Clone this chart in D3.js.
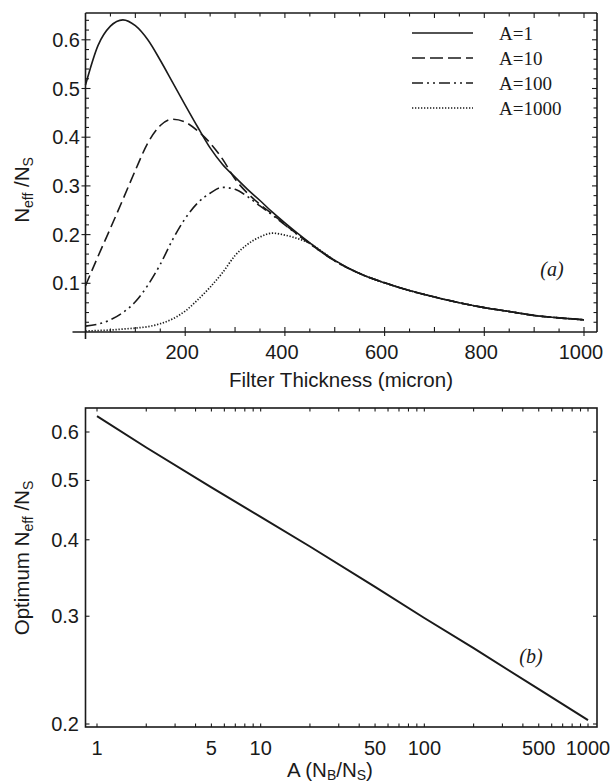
<!DOCTYPE html>
<html>
<head>
<meta charset="utf-8">
<script src="https://d3js.org/d3.v7.min.js"></script>
<style>
  body { margin: 0; background: #fff; }
  svg { display: block; }
  .tick-label { font-family: "Liberation Sans", Arial, sans-serif; font-size: 20px; fill: #1a1a1a; }
  .axis-title { font-family: "Liberation Sans", Arial, sans-serif; font-size: 20.5px; fill: #1a1a1a; }
  .legend-label { font-family: "Liberation Serif", "Times New Roman", serif; font-size: 19px; fill: #1a1a1a; }
  .panel-tag { font-family: "Liberation Serif", "Times New Roman", serif; font-size: 20px; font-style: italic; fill: #1a1a1a; }
</style>
</head>
<body>
<div id="graphicContainer"></div>
<script>
// ---- data ----
var thickness = [0,25,50,75,100,125,150,175,200,225,250,275,300,325,350,375,400,425,450,475,500,550,600,650,700,750,800,850,900,950,1000];

var effA1    = [0.507,0.588,0.628,0.641,0.629,0.600,0.558,0.512,0.466,0.421,0.378,0.344,0.318,0.293,0.270,0.246,0.224,0.203,0.183,0.164,0.147,0.120,0.101,0.085,0.072,0.060,0.050,0.042,0.034,0.029,0.025];
var effA10   = [0.095,0.155,0.213,0.272,0.332,0.388,0.424,0.437,0.431,0.413,0.388,0.355,0.314,0.285,0.262,0.242,0.221,0.201,0.182,0.163,0.146,0.120,0.101,0.085,0.072,0.060,0.050,0.042,0.034,0.029,0.025];
var effA100  = [0.012,0.016,0.025,0.040,0.062,0.096,0.139,0.190,0.233,0.265,0.285,0.297,0.293,0.278,0.259,0.240,0.220,0.200,0.181,0.163,0.146,0.120,0.101,0.085,0.072,0.060,0.050,0.042,0.034,0.029,0.025];
var effA1000 = [0.002,0.003,0.004,0.006,0.008,0.011,0.017,0.027,0.043,0.066,0.092,0.122,0.157,0.180,0.195,0.203,0.199,0.192,0.182,0.165,0.147,0.120,0.101,0.085,0.072,0.060,0.050,0.042,0.034,0.029,0.025];

var seriesNames = ["A=1", "A=10", "A=100", "A=1000"];

var xTicksTop = [200, 400, 600, 800, 1000];
var yTicksTop = [0.1, 0.2, 0.3, 0.4, 0.5, 0.6];

var ratioA = [1, 2, 5, 10, 20, 50, 100, 200, 500, 1000];
var optEff = [0.637, 0.566, 0.487, 0.436, 0.390, 0.335, 0.298, 0.266, 0.228, 0.203];

var xTicksBottom = [1, 5, 10, 50, 100, 500, 1000];
var yTicksBottom = [0.2, 0.3, 0.4, 0.5, 0.6];

// ---- layout ----
var width = 613,
	height = 783,
	ink = "#1a1a1a",
	subSize = "14px";

var svg = d3.select("#graphicContainer")
	.append("svg")
	.attr("width", width)
	.attr("height", height);

// ================= panel (a) =================
var frameA = {left: 85.5, right: 597, top: 13, bottom: 332};

var xTop = d3.scaleLinear().domain([0, 1000]).range([85.5, 584]),
	yTop = d3.scaleLinear().domain([0, 0.6]).range([332, 332 - 0.6 * 487]);

var gA = svg.append("g");

var dashes = ["none", "11,5", "11,4,2,4,2,4", "1.3,1.7"];
var allSeries = [effA1, effA10, effA100, effA1000];

var lineTop = d3.line()
	.x(function(d){ return xTop(d[0]) })
	.y(function(d){ return yTop(d[1]) })
	.curve(d3.curveMonotoneX);

allSeries.forEach(function(vals, i){
	gA.append("path")
		.datum(thickness.map(function(t, j){ return [t, vals[j]] }))
		.attr("d", lineTop)
		.attr("fill", "none")
		.attr("stroke", ink)
		.attr("stroke-width", i == 3 ? 1.7 : 1.6)
		.attr("stroke-dasharray", dashes[i]);
});

// frame + axes
var frameLines = [
	[frameA.left, frameA.top, frameA.right, frameA.top],
	[frameA.right, frameA.top, frameA.right, frameA.bottom],
	[frameA.left, frameA.top, frameA.left, frameA.bottom + 7],
	[frameA.left - 13, frameA.bottom, frameA.right, frameA.bottom]
];
gA.selectAll(".frame").data(frameLines).enter().append("line")
	.attr("class", "frame")
	.attr("x1", function(d){ return d[0] }).attr("y1", function(d){ return d[1] })
	.attr("x2", function(d){ return d[2] }).attr("y2", function(d){ return d[3] })
	.attr("stroke", ink).attr("stroke-width", 1.6);

// x ticks every 50 (bottom axis and top frame)
var xMinor = d3.range(50, 1001, 50);
gA.selectAll(".xt").data(xMinor).enter().append("line")
	.attr("x1", function(d){ return xTop(d) }).attr("x2", function(d){ return xTop(d) })
	.attr("y1", function(d){ return d % 200 == 0 ? frameA.bottom + 4 : frameA.bottom })
	.attr("y2", function(d){ return d % 100 == 0 ? frameA.bottom - 5 : frameA.bottom - 3.5 })
	.attr("stroke", ink).attr("stroke-width", 1.1);
gA.selectAll(".xtt").data(xMinor).enter().append("line")
	.attr("x1", function(d){ return xTop(d) }).attr("x2", function(d){ return xTop(d) })
	.attr("y1", frameA.top)
	.attr("y2", function(d){ return d % 100 == 0 ? frameA.top + 5 : frameA.top + 3.5 })
	.attr("stroke", ink).attr("stroke-width", 1.1);

// y ticks every 0.02 (left axis and right frame)
var yMinor = d3.range(1, 33).map(function(k){ return k * 0.02 });
gA.selectAll(".yt").data(yMinor).enter().append("line")
	.attr("x1", function(d, i){ return (i + 1) % 5 == 0 ? frameA.left - 4 : frameA.left })
	.attr("x2", function(d, i){ return (i + 1) % 5 == 0 ? frameA.left + 5 : frameA.left + 3.5 })
	.attr("y1", function(d){ return yTop(d) }).attr("y2", function(d){ return yTop(d) })
	.attr("stroke", ink).attr("stroke-width", 1.1);
gA.selectAll(".ytr").data(yMinor).enter().append("line")
	.attr("x1", frameA.right)
	.attr("x2", function(d, i){ return (i + 1) % 5 == 0 ? frameA.right - 5 : frameA.right - 3.5 })
	.attr("y1", function(d){ return yTop(d) }).attr("y2", function(d){ return yTop(d) })
	.attr("stroke", ink).attr("stroke-width", 1.1);

gA.selectAll(".xl").data(xTicksTop).enter().append("text")
	.attr("class", "tick-label")
	.attr("x", function(d){ return xTop(d) - 3 })
	.attr("y", 359)
	.attr("text-anchor", "middle")
	.text(function(d){ return d });

gA.selectAll(".yl").data(yTicksTop).enter().append("text")
	.attr("class", "tick-label")
	.attr("x", 80)
	.attr("y", function(d){ return yTop(d) + 7 })
	.attr("text-anchor", "end")
	.text(function(d){ return d3.format(".1f")(d) });

gA.append("text")
	.attr("class", "axis-title")
	.attr("x", 341).attr("y", 387)
	.attr("text-anchor", "middle")
	.text("Filter Thickness (micron)");

var yTitleA = gA.append("text")
	.attr("class", "axis-title")
	.attr("transform", "translate(29,190) rotate(-90)")
	.attr("text-anchor", "middle");
yTitleA.append("tspan").text("N");
yTitleA.append("tspan").attr("font-size", subSize).attr("dy", 4).text("eff");
yTitleA.append("tspan").attr("dy", -4).text(" /N");
yTitleA.append("tspan").attr("font-size", subSize).attr("dy", 4).text("S");

// legend
var legendRows = [33, 58, 83, 108];
seriesNames.forEach(function(name, i){
	gA.append("line")
		.attr("x1", 412).attr("x2", 473)
		.attr("y1", legendRows[i]).attr("y2", legendRows[i])
		.attr("stroke", ink)
		.attr("stroke-width", i == 3 ? 1.7 : 1.6)
		.attr("stroke-dasharray", i == 1 ? "13,5" : dashes[i]);
	gA.append("text")
		.attr("class", "legend-label")
		.attr("x", 499).attr("y", legendRows[i] + 6.5)
		.text(name);
});

gA.append("text")
	.attr("class", "panel-tag")
	.attr("x", 552).attr("y", 276)
	.attr("text-anchor", "middle")
	.text("(a)");

// ================= panel (b) =================
var frameB = {left: 85.5, right: 597, top: 408, bottom: 727};

var xBot = d3.scaleLog().domain([1, 1000]).range([97, 588]),
	yBot = d3.scaleLog().domain([0.2, 0.6]).range([724, 432]);

var gB = svg.append("g");

gB.append("rect")
	.attr("x", frameB.left).attr("y", frameB.top)
	.attr("width", frameB.right - frameB.left).attr("height", frameB.bottom - frameB.top)
	.attr("fill", "none").attr("stroke", ink).attr("stroke-width", 1.6);

var logTicks = [];
[1, 10, 100].forEach(function(dec){
	for (var k = 1; k < 10; k++) logTicks.push(dec * k);
});
logTicks.push(1000);

gB.selectAll(".bxt").data(logTicks).enter().append("line")
	.attr("x1", function(d){ return xBot(d) }).attr("x2", function(d){ return xBot(d) })
	.attr("y1", frameB.bottom).attr("y2", frameB.bottom - 3.5)
	.attr("stroke", ink).attr("stroke-width", 1.1);
gB.selectAll(".bxtt").data(logTicks).enter().append("line")
	.attr("x1", function(d){ return xBot(d) }).attr("x2", function(d){ return xBot(d) })
	.attr("y1", frameB.top).attr("y2", frameB.top + 3.5)
	.attr("stroke", ink).attr("stroke-width", 1.1);

gB.selectAll(".byt").data(yTicksBottom).enter().append("line")
	.attr("x1", frameB.left).attr("x2", frameB.left + 4)
	.attr("y1", function(d){ return yBot(d) }).attr("y2", function(d){ return yBot(d) })
	.attr("stroke", ink).attr("stroke-width", 1.1);
gB.selectAll(".bytr").data(yTicksBottom).enter().append("line")
	.attr("x1", frameB.right).attr("x2", frameB.right - 4)
	.attr("y1", function(d){ return yBot(d) }).attr("y2", function(d){ return yBot(d) })
	.attr("stroke", ink).attr("stroke-width", 1.1);

gB.selectAll(".bxl").data(xTicksBottom).enter().append("text")
	.attr("class", "tick-label")
	.attr("x", function(d){ return xBot(d) })
	.attr("y", 755)
	.attr("text-anchor", "middle")
	.text(function(d){ return d });

gB.selectAll(".byl").data(yTicksBottom).enter().append("text")
	.attr("class", "tick-label")
	.attr("x", 79)
	.attr("y", function(d){ return yBot(d) + 7 })
	.attr("text-anchor", "end")
	.text(function(d){ return d3.format(".1f")(d) });

gB.append("path")
	.datum(ratioA.map(function(a, j){ return [a, optEff[j]] }))
	.attr("d", d3.line()
		.x(function(d){ return xBot(d[0]) })
		.y(function(d){ return yBot(d[1]) }))
	.attr("fill", "none")
	.attr("stroke", ink)
	.attr("stroke-width", 2);

var xTitleB = gB.append("text")
	.attr("class", "axis-title")
	.attr("x", 330).attr("y", 777)
	.attr("text-anchor", "middle");
xTitleB.append("tspan").text("A (N");
xTitleB.append("tspan").attr("font-size", subSize).attr("dy", 3).text("B");
xTitleB.append("tspan").attr("dy", -3).text("/N");
xTitleB.append("tspan").attr("font-size", subSize).attr("dy", 3).text("S");
xTitleB.append("tspan").attr("dy", -3).text(")");

var yTitleB = gB.append("text")
	.attr("class", "axis-title")
	.attr("transform", "translate(29,558) rotate(-90)")
	.attr("text-anchor", "middle");
yTitleB.append("tspan").text("Optimum N");
yTitleB.append("tspan").attr("font-size", subSize).attr("dy", 4).text("eff");
yTitleB.append("tspan").attr("dy", -4).text(" /N");
yTitleB.append("tspan").attr("font-size", subSize).attr("dy", 4).text("S");

gB.append("text")
	.attr("class", "panel-tag")
	.attr("x", 531).attr("y", 663)
	.attr("text-anchor", "middle")
	.text("(b)");
</script>
</body>
</html>
